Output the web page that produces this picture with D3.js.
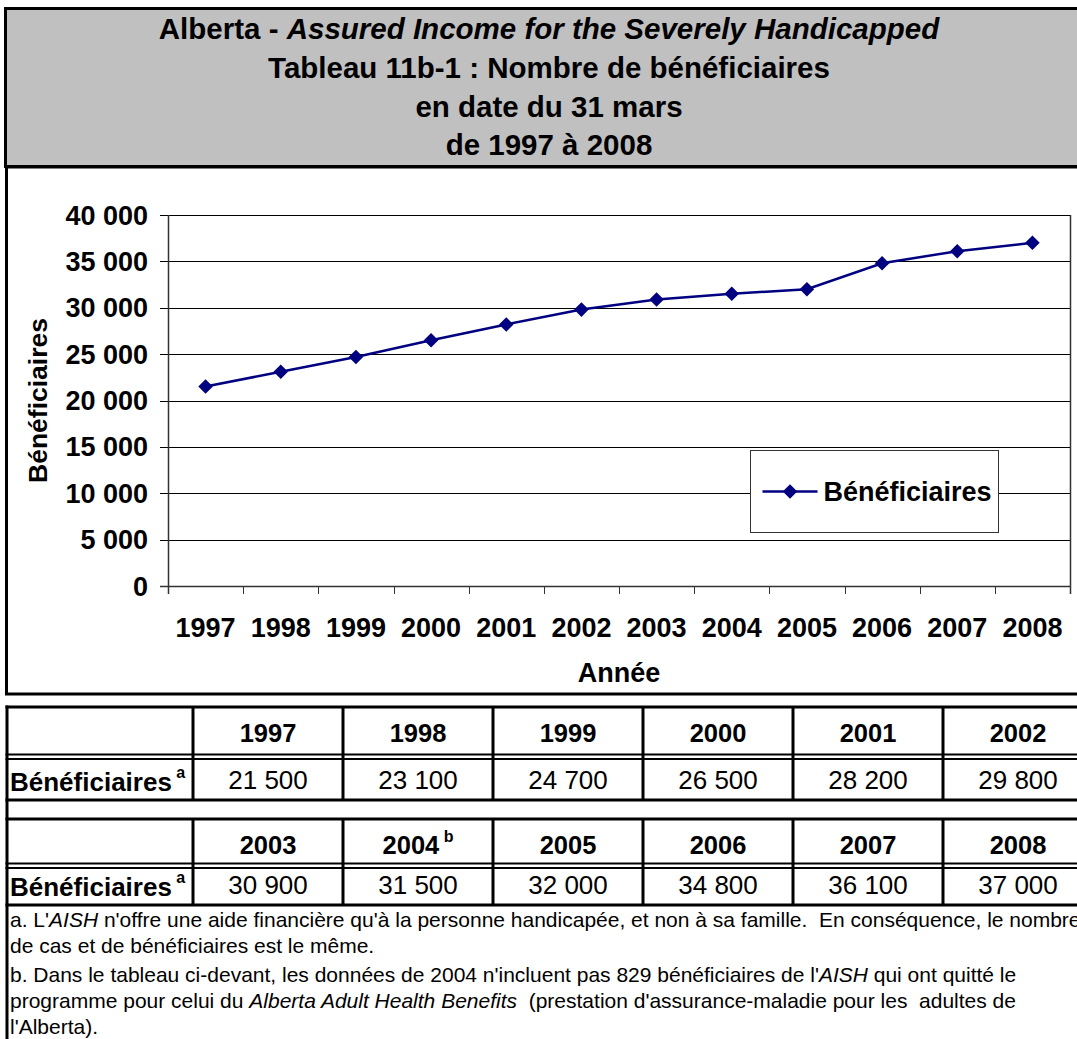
<!DOCTYPE html>
<html>
<head>
<meta charset="utf-8">
<script src="https://cdn.jsdelivr.net/npm/d3@7"></script>
<style>
  html, body { margin: 0; padding: 0; background: #fff; overflow: hidden; }
  svg { display: block; font-family: "Liberation Sans", Arial, sans-serif; }
</style>
</head>
<body>
<div id="chart"></div>
<script>
var years = ["1997", "1998", "1999", "2000", "2001", "2002",
  "2003", "2004", "2005", "2006", "2007", "2008"];
var beneficiaires = [21500, 23100, 24700, 26500, 28200, 29800,
  30900, 31500, 32000, 34800, 36100, 37000];
var yTicks = [0, 5000, 10000, 15000, 20000, 25000, 30000, 35000, 40000];
var seriesName = "Bénéficiaires";
var yearNotes = { "2004": "b" };

var W = 1077;
var H = 1039;
var FULL_RIGHT = 1093; // page is wider than the window, right side is cut off
var PLOT = { left: 168, right: 1070, top: 215, bottom: 586 };
var NAVY = "#000080";
var AXIS_FONT = 27;

var fr = d3.formatLocale({ decimal: ",", thousands: " ", grouping: [3], currency: ["", ""] });
var fmt = fr.format(",d");

var svg = d3.select("#chart").append("svg")
  .attr("width", W)
  .attr("height", H);

// ----- title box
svg.append("rect")
  .attr("x", 5.5).attr("y", 8.5)
  .attr("width", FULL_RIGHT - 5.5).attr("height", 158)
  .attr("fill", "#c0c0c0")
  .attr("stroke", "#000").attr("stroke-width", 3);

var titleX = (5 + FULL_RIGHT) / 2;
var t1 = svg.append("text")
  .attr("x", titleX).attr("y", 39)
  .attr("text-anchor", "middle")
  .attr("font-size", 29.5).attr("font-weight", "bold");
t1.append("tspan").text("Alberta - ");
t1.append("tspan").attr("font-style", "italic").text("Assured Income for the Severely Handicapped");
["Tableau 11b-1 : Nombre de bénéficiaires", "en date du 31 mars", "de 1997 à 2008"]
  .forEach(function(line, i) {
    svg.append("text")
      .attr("x", titleX).attr("y", 78 + i * 38.5)
      .attr("text-anchor", "middle")
      .attr("font-size", 29.5).attr("font-weight", "bold")
      .text(line);
  });

// ----- chart box
svg.append("rect")
  .attr("x", 6.5).attr("y", 167)
  .attr("width", FULL_RIGHT - 6.5).attr("height", 527)
  .attr("fill", "#fff")
  .attr("stroke", "#000").attr("stroke-width", 3);

var x = d3.scaleBand().domain(years).range([PLOT.left, PLOT.right]);
var y = d3.scaleLinear().domain([0, 40000]).range([PLOT.bottom, PLOT.top]);

var plot = svg.append("g").attr("id", "plot");

// gridlines and y ticks
plot.selectAll(".grid")
  .data(yTicks)
  .enter()
  .append("line")
  .attr("class", "grid")
  .attr("x1", PLOT.left - 8)
  .attr("x2", PLOT.right)
  .attr("y1", function(d) { return Math.round(y(d)) + 0.5; })
  .attr("y2", function(d) { return Math.round(y(d)) + 0.5; })
  .attr("stroke", function(d) { return d === 0 ? "#333" : "#000"; })
  .attr("stroke-width", function(d) { return d === 0 ? 1.5 : 1; });

plot.selectAll(".ylab")
  .data(yTicks)
  .enter()
  .append("text")
  .attr("class", "ylab")
  .attr("x", 148)
  .attr("y", function(d) { return y(d) + 9.5; })
  .attr("text-anchor", "end")
  .attr("font-size", AXIS_FONT).attr("font-weight", "bold")
  .text(function(d) { return fmt(d); });

// plot frame: left axis, right border
plot.append("line")
  .attr("x1", PLOT.left + 0.5).attr("x2", PLOT.left + 0.5)
  .attr("y1", PLOT.top).attr("y2", PLOT.bottom + 8)
  .attr("stroke", "#333").attr("stroke-width", 1.5);
plot.append("line")
  .attr("x1", PLOT.right + 0.5).attr("x2", PLOT.right + 0.5)
  .attr("y1", PLOT.top).attr("y2", PLOT.bottom + 8)
  .attr("stroke", "#333").attr("stroke-width", 1.5);

// x ticks at the band edges
plot.selectAll(".xtick")
  .data(years.slice(1))
  .enter()
  .append("line")
  .attr("class", "xtick")
  .attr("x1", function(d) { return Math.round(x(d)) + 0.5; })
  .attr("x2", function(d) { return Math.round(x(d)) + 0.5; })
  .attr("y1", PLOT.bottom)
  .attr("y2", PLOT.bottom + 8)
  .attr("stroke", "#333").attr("stroke-width", 1);

plot.selectAll(".xlab")
  .data(years)
  .enter()
  .append("text")
  .attr("class", "xlab")
  .attr("x", function(d) { return x(d) + x.bandwidth() / 2; })
  .attr("y", 637)
  .attr("text-anchor", "middle")
  .attr("font-size", AXIS_FONT).attr("font-weight", "bold")
  .text(function(d) { return d; });

// axis titles
svg.append("text")
  .attr("x", (PLOT.left + PLOT.right) / 2).attr("y", 682)
  .attr("text-anchor", "middle")
  .attr("font-size", AXIS_FONT).attr("font-weight", "bold")
  .text("Année");
svg.append("text")
  .attr("transform", "translate(47," + ((PLOT.top + PLOT.bottom) / 2) + ") rotate(-90)")
  .attr("text-anchor", "middle")
  .attr("font-size", 26.5).attr("font-weight", "bold")
  .text(seriesName);

// series line and markers
var line = d3.line()
  .x(function(d, i) { return x(years[i]) + x.bandwidth() / 2; })
  .y(function(d) { return y(d); });
plot.append("path")
  .datum(beneficiaires)
  .attr("d", line)
  .attr("fill", "none")
  .attr("stroke", NAVY)
  .attr("stroke-width", 2.5);

var diamond = d3.symbol().type(d3.symbolDiamond2).size(135);
plot.selectAll(".marker")
  .data(beneficiaires)
  .enter()
  .append("path")
  .attr("class", "marker")
  .attr("d", diamond)
  .attr("transform", function(d, i) {
    return "translate(" + (x(years[i]) + x.bandwidth() / 2) + "," + y(d) + ")";
  })
  .attr("fill", NAVY);

// legend
var legend = svg.append("g").attr("transform", "translate(750.5,450.5)");
legend.append("rect")
  .attr("width", 248).attr("height", 82)
  .attr("fill", "#fff").attr("stroke", "#333").attr("stroke-width", 1);
legend.append("line")
  .attr("x1", 12).attr("x2", 67).attr("y1", 41).attr("y2", 41)
  .attr("stroke", NAVY).attr("stroke-width", 2.5);
legend.append("path")
  .attr("d", diamond)
  .attr("transform", "translate(39.5,41)")
  .attr("fill", NAVY);
legend.append("text")
  .attr("x", 73).attr("y", 50)
  .attr("font-size", AXIS_FONT).attr("font-weight", "bold")
  .text(seriesName);

// ----- data table
var table = svg.append("g").attr("id", "table");
var COL0 = 7;
var COL1 = 193;
var COLW = 150;
var rowsTop = [
  { head: 707, dbl: 754.5, bottom: 800, years: years.slice(0, 6), vals: beneficiaires.slice(0, 6) },
  { head: 819, dbl: 863.5, bottom: 905, years: years.slice(6), vals: beneficiaires.slice(6) }
];

function hline(y0, w) {
  table.append("line")
    .attr("x1", COL0 - 1.5).attr("x2", FULL_RIGHT)
    .attr("y1", y0).attr("y2", y0)
    .attr("stroke", "#000").attr("stroke-width", w);
}
function vline(x0, y0, y1) {
  table.append("line")
    .attr("x1", x0).attr("x2", x0)
    .attr("y1", y0).attr("y2", y1)
    .attr("stroke", "#000").attr("stroke-width", 3);
}

rowsTop.forEach(function(block) {
  hline(block.head, 3);
  hline(block.dbl, 2);
  hline(block.dbl + 4.5, 2);
  hline(block.bottom, 3);
  for (var c = 0; c < 6; c++) {
    vline(COL1 + c * COLW, block.head, block.bottom);
  }
  block.years.forEach(function(yr, i) {
    var cx = COL1 + i * COLW + COLW / 2;
    var t = table.append("text")
      .attr("x", cx).attr("y", block.head + 35)
      .attr("text-anchor", "middle")
      .attr("font-size", 25.5).attr("font-weight", "bold");
    t.append("tspan").text(yr);
    if (yearNotes[yr]) {
      t.append("tspan").attr("font-size", 16).attr("dy", -12).text(" " + yearNotes[yr]);
    }
  });
  block.vals.forEach(function(v, i) {
    table.append("text")
      .attr("x", COL1 + i * COLW + COLW / 2).attr("y", block.bottom - 11)
      .attr("text-anchor", "middle")
      .attr("font-size", 26)
      .text(fmt(v));
  });
  var lab = table.append("text")
    .attr("x", 10).attr("y", block.bottom - 9)
    .attr("font-size", 26).attr("font-weight", "bold");
  lab.append("tspan").text(seriesName);
  lab.append("tspan").attr("font-size", 16).attr("dy", -13).text(" a");
});
// left outer border of the table
vline(COL0, 705.5, H);

// footnotes
var notes = [
  [["a. L'", false], ["AISH", true], [" n'offre une aide financière qu'à la personne handicapée, et non à sa famille.  En conséquence, le nombre", false]],
  [["de cas et de bénéficiaires est le même.", false]],
  [["b. Dans le tableau ci-devant, les données de 2004 n'incluent pas 829 bénéficiaires de l'", false], ["AISH", true], [" qui ont quitté le", false]],
  [["programme pour celui du ", false], ["Alberta Adult Health Benefits", true], ["  (prestation d'assurance-maladie pour les  adultes de", false]],
  [["l'Alberta).", false]]
];
var noteY = [927, 953, 982, 1008, 1034];
notes.forEach(function(parts, i) {
  var t = table.append("text")
    .attr("x", 10).attr("y", noteY[i])
    .attr("font-size", 21)
    .attr("xml:space", "preserve")
    .style("white-space", "pre");
  parts.forEach(function(p) {
    t.append("tspan").attr("font-style", p[1] ? "italic" : null).text(p[0]);
  });
});
</script>
</body>
</html>
